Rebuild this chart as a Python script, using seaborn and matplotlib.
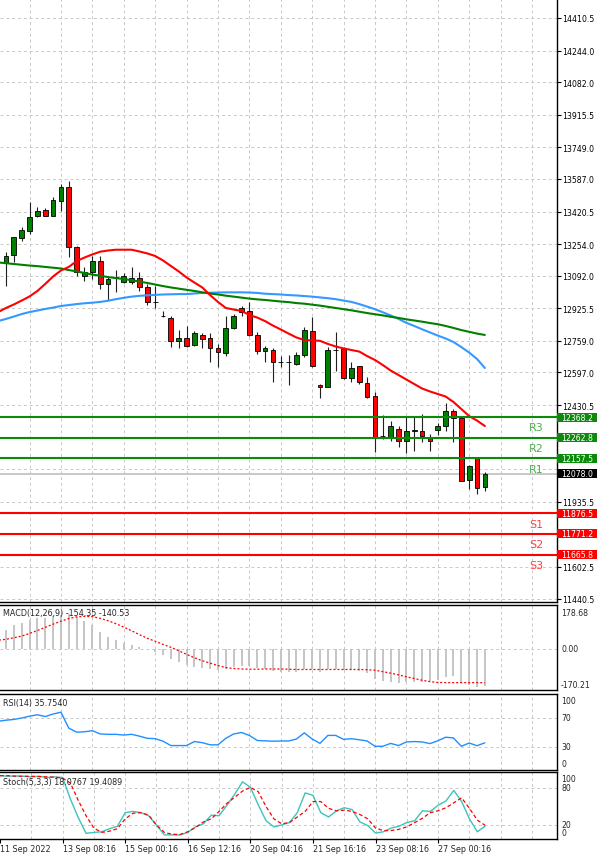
import matplotlib
matplotlib.use("Agg")
import numpy as np
import pandas as pd
import matplotlib.pyplot as plt
import matplotlib.transforms as mtransforms
from matplotlib.patches import Rectangle
import seaborn as sns

# ---------------- data ----------------
bar_idx = list(range(62))
ext_idx = list(range(-1, 62))

opens = [13157, 13198, 13283, 13322, 13396, 13430, 13396, 13473, 13544, 13240,
         13092, 13113, 13166, 13050, 13085, 13061, 13061, 13079, 13033, 12959,
         12886, 12877, 12756, 12772, 12738, 12789, 12772, 12722, 12697, 12823,
         12925, 12913, 12790, 12708, 12714, 12652, 12652, 12640, 12688, 12811,
         12533, 12521, 12714, 12717, 12567, 12629, 12543, 12475, 12273, 12265,
         12308, 12248, 12297, 12296, 12265, 12303, 12325, 12398, 12364, 12048,
         12158, 12010]
highs = [13213, 13290, 13341, 13471, 13445, 13441, 13493, 13561, 13578, 13246,
         13137, 13193, 13193, 13092, 13123, 13106, 13135, 13110, 13050, 13038,
         12913, 12884, 12816, 12833, 12811, 12799, 12799, 12743, 12888, 12896,
         12939, 12959, 12803, 12734, 12721, 12680, 12686, 12703, 12828, 12879,
         12536, 12725, 12803, 12725, 12649, 12632, 12574, 12496, 12379, 12350,
         12325, 12368, 12368, 12385, 12282, 12339, 12439, 12410, 12374, 12124,
         12158, 12086]
lows = [13041, 13162, 13271, 13305, 13391, 13398, 13396, 13425, 13186, 13092,
        13067, 13075, 13024, 12969, 13007, 13055, 13050, 13015, 12944, 12925,
        12879, 12726, 12721, 12726, 12731, 12721, 12652, 12624, 12683, 12819,
        12888, 12785, 12692, 12652, 12550, 12624, 12533, 12635, 12675, 12624,
        12465, 12521, 12606, 12564, 12547, 12538, 12465, 12192, 12257, 12248,
        12214, 12185, 12197, 12240, 12197, 12277, 12299, 12240, 12042, 12001,
        11975, 11992]
closes = [13194, 13289, 13326, 13391, 13422, 13399, 13481, 13544, 13237, 13113,
          13113, 13166, 13050, 13075, 13082, 13091, 13079, 13033, 12956, 12957,
          12884, 12756, 12772, 12734, 12797, 12768, 12721, 12700, 12823, 12888,
          12905, 12790, 12708, 12721, 12649, 12650, 12651, 12688, 12816, 12629,
          12521, 12714, 12712, 12567, 12618, 12547, 12473, 12268, 12270, 12325,
          12245, 12299, 12301, 12270, 12248, 12325, 12398, 12364, 12043, 12120,
          12004, 12078]

ma_red = [12906, 12927, 12945, 12965, 12986, 13014, 13050, 13088, 13119, 13137,
          13167, 13185, 13201, 13215, 13221, 13225, 13225, 13225, 13216, 13206,
          13193, 13170, 13142, 13114, 13083, 13057, 13032, 12993, 12958, 12927,
          12919, 12912, 12891, 12878, 12860, 12837, 12817, 12796, 12776, 12763,
          12761, 12759, 12743, 12730, 12720, 12712, 12704, 12681, 12661, 12635,
          12607, 12584, 12561, 12538, 12515, 12500, 12487, 12474, 12446, 12410,
          12374, 12351, 12323]
ma_green = [13160, 13156, 13152, 13148, 13144, 13141, 13137, 13133, 13129, 13121,
            13114, 13106, 13098, 13092, 13085, 13080, 13075, 13069, 13062, 13055,
            13047, 13039, 13032, 13026, 13020, 13014, 13007, 13001, 12996, 12990,
            12985, 12980, 12975, 12971, 12968, 12964, 12960, 12957, 12952, 12949,
            12944, 12939, 12933, 12927, 12921, 12915, 12908, 12901, 12895, 12889,
            12882, 12876, 12869, 12863, 12857, 12850, 12844, 12835, 12825, 12814,
            12805, 12796, 12789]
ma_blue = [12860, 12871, 12883, 12896, 12906, 12914, 12922, 12929, 12937, 12942,
           12947, 12951, 12954, 12958, 12964, 12972, 12979, 12985, 12989, 12992,
           12994, 12996, 12997, 12998, 12998, 13001, 13004, 13005, 13006, 13007,
           13007, 13007, 13006, 13004, 13000, 12998, 12996, 12993, 12991, 12988,
           12985, 12981, 12977, 12972, 12965, 12958, 12947, 12934, 12921, 12905,
           12889, 12871, 12851, 12835, 12818, 12802, 12786, 12771, 12753, 12727,
           12699, 12666, 12620]

# grid levels of the price scale; only the visible ones get a label
price_grid = [14410.5, 14244.0, 14082.0, 13915.5, 13749.0, 13587.0, 13420.5,
              13254.0, 13092.0, 12925.5, 12759.0, 12597.0, 12430.5, 12264.0,
              12102.0, 11935.5, 11769.0, 11602.5, 11440.5]
price_labels = [14410.5, 14244.0, 14082.0, 13915.5, 13749.0, 13587.0, 13420.5,
                13254.0, 13092.0, 12925.5, 12759.0, 12597.0, 12430.5,
                11935.5, 11602.5, 11440.5]

res_levels = [12368.2, 12262.8, 12157.5]
res_names = ["R3", "R2", "R1"]
sup_levels = [11876.5, 11771.2, 11665.8]
sup_names = ["S1", "S2", "S3"]
last_price = 12078.0

macd_main = [75, 95, 106, 117, 124, 127, 132, 138, 142, 128,
             112, 96, 66, 48, 34, 24, 14, 5, -2, -14,
             -28, -44, -56, -66, -74, -80, -86, -90, -84, -76,
             -70, -72, -80, -86, -92, -96, -98, -96, -84, -86,
             -96, -86, -84, -88, -88, -92, -100, -124, -134, -138,
             -140, -138, -138, -136, -134, -130, -118, -112, -140, -148,
             -158, -154.35]
macd_signal = [34, 38, 44, 51, 62, 74, 87, 100, 112, 123, 130, 132, 131, 124,
               114, 102, 88, 73, 57, 42, 30, 17, 5, -9, -24, -38, -50, -60,
               -70, -78, -82, -84, -85, -85, -84, -84, -84, -85, -86, -86, -86,
               -86, -86, -86, -86, -86, -86, -87, -89, -95, -101, -108, -116,
               -123, -130, -136, -139, -140, -140, -140, -140, -140, -140.53]

rsi = [65.5, 67, 68, 70, 72.5, 74.5, 72, 75.5, 78, 56, 50.5, 51, 52.5, 48, 47.5,
       47.5, 46.5, 47.5, 45, 42, 41.5, 38, 32, 32, 32, 37.5, 36, 33, 33, 42, 48,
       50, 46, 39, 38.5, 38, 38.3, 38.3, 41, 49.5, 41, 35, 46, 46, 40.5, 41.5,
       40, 38.3, 31, 31, 35, 32, 37, 37.5, 37, 34.7, 38.5, 43.5, 42.5, 31, 35.5,
       31.8, 35.754]

sto_main = [100, 99, 99.5, 99, 98, 99, 97, 98, 97, 62, 32, 6.5, 8, 9, 14, 18, 40,
            42, 40, 35, 20, 4, 4, 4, 8, 17, 22, 36, 35, 52, 70, 90, 81, 53, 27,
            17, 20, 24, 40, 72, 68, 40, 33, 43, 48, 45, 25, 19, 7, 9, 15, 18, 24,
            27, 43, 42, 52, 59, 76, 58, 30, 9, 18.08]
sto_signal = [100, 100, 99, 99, 99, 98.5, 98, 97.5, 96, 88, 60, 35, 15, 8, 10, 14,
              30, 39, 40, 36, 20, 8, 5, 4.6, 9, 16, 25, 30, 42, 55, 65, 75, 81, 74,
              50, 30, 22, 24, 33, 42, 58, 58, 47, 43, 44, 42, 37, 30, 15, 11, 11,
              13, 17, 24, 31, 40, 43, 48, 56, 64, 47, 28, 19.41]

date_pos = [-1, 7, 15, 23, 31, 39, 47, 55]
date_labels = ["11 Sep 2022", "13 Sep 08:16", "15 Sep 00:16", "16 Sep 12:16",
               "20 Sep 04:16", "21 Sep 16:16", "23 Sep 08:16", "27 Sep 00:16"]
grid_x = list(range(3, 70, 4))

# ---------------- style ----------------
sns.set_style("white")
plt.rcParams['font.family'] = ['DejaVu Sans']

W, H = 600, 862
fig = plt.figure(figsize=(W / 100, H / 100), dpi=100)
fig.patch.set_facecolor("white")

RIGHT = 557


def rect(top, bottom):
    return [0, (H - bottom) / H, RIGHT / W, (bottom - top) / H]


ax = fig.add_axes(rect(0, 603))
ax_macd = fig.add_axes(rect(606, 691))
ax_rsi = fig.add_axes(rect(695, 771))
ax_sto = fig.add_axes(rect(773, 840))
axes = [ax, ax_macd, ax_rsi, ax_sto]

GRID = "#c8c8c8"
GRID_LS = (0, (3, 3))
XMIN, XMAX = -0.764, 70.19
FS = 5.6

for a in axes:
    a.set_xlim(XMIN, XMAX)
    a.set_facecolor("white")
    a.spines["left"].set_visible(False)
    for s in ["right", "top", "bottom"]:
        a.spines[s].set_color("black")
        a.spines[s].set_linewidth(1.0)
    a.set_xticks([])
    for g in grid_x:
        a.axvline(g, color=GRID, lw=0.7, ls=GRID_LS, zorder=0)
ax.spines["top"].set_visible(False)

# ---------------- main panel ----------------
ax.set_ylim(11422.8, 14507.7)
for t in price_grid:
    ax.axhline(t, color=GRID, lw=0.7, ls=GRID_LS, zorder=0)
ax.yaxis.tick_right()
ax.set_yticks(price_labels)
ax.set_yticklabels([f"{t:.1f}" for t in price_labels], fontsize=FS)
ax.tick_params(axis="y", length=3, width=0.8, pad=1, colors="black")

ax.axhline(last_price, color="#c4c4c4", lw=1.3, zorder=1)

df = pd.DataFrame({"i": bar_idx, "o": opens, "h": highs, "l": lows, "c": closes})
up = df["c"] >= df["o"]
ax.vlines(df["i"], df["l"], df["h"], color="#202020", lw=0.8, zorder=3)
body_bottom = np.minimum(df["o"], df["c"])
body_h = np.maximum(np.abs(df["c"] - df["o"]), 2.0)
ax.bar(df["i"], body_h, bottom=body_bottom, width=0.6,
       color=np.where(up, "#008000", "#ff0000"), edgecolor="black",
       linewidth=0.6, zorder=4)

sns.lineplot(x=ext_idx, y=ma_blue, ax=ax, color="#3399ff", lw=1.5, zorder=5)
sns.lineplot(x=ext_idx, y=ma_green, ax=ax, color="#008000", lw=1.5, zorder=5)
sns.lineplot(x=ext_idx, y=ma_red, ax=ax, color="#ff0000", lw=1.5, zorder=5)

bt = mtransforms.blended_transform_factory(fig.transFigure, ax.transData)


def level_box(lvl, color):
    ax.add_patch(Rectangle((RIGHT / W, lvl - 23), 40 / W, 46, transform=bt,
                           facecolor=color, edgecolor="none",
                           clip_on=False, zorder=8))
    ax.text(561 / W, lvl, f"{lvl:.1f}", transform=bt, color="white",
            fontsize=FS, ha="left", va="center", zorder=9, clip_on=False)


for lvl, name in zip(res_levels, res_names):
    ax.axhline(lvl, color="#0b8a0b", lw=1.5, zorder=6)
    ax.text(67.6, lvl - 52, name, color="#4fae4f", fontsize=8,
            ha="center", va="center", zorder=7)
    level_box(lvl, "#0b8a0b")
for lvl, name in zip(sup_levels, sup_names):
    ax.axhline(lvl, color="#ff0000", lw=1.5, zorder=6)
    ax.text(67.6, lvl - 53, name, color="#ff4040", fontsize=8,
            ha="center", va="center", zorder=7)
    level_box(lvl, "#ff0000")
level_box(last_price, "black")


def ftext(x, y, s, **kw):
    fig.text(x / W, 1 - y / H, s, fontsize=kw.pop("fontsize", FS),
             va=kw.pop("va", "center"), ha=kw.pop("ha", "left"), **kw)


# ---------------- MACD ----------------
ax_macd.set_ylim(-170.21, 178.68)
ax_macd.axhline(0, color=GRID, lw=0.7, ls=GRID_LS, zorder=0)
ax_macd.vlines(bar_idx, 0, macd_main, color="#c0c0c0", lw=1.3, zorder=2)
sns.lineplot(x=ext_idx, y=macd_signal, ax=ax_macd, color="#ff0000", lw=0.9,
             linestyle=(0, (1.6, 1.6)), zorder=3)
ax_macd.set_yticks([])
ftext(3, 614, "MACD(12,26,9) -154.35 -140.53", fontsize=5.8)
ftext(561, 614, "178.68")
ftext(561, 650, "0.00")
ftext(561, 685, "-170.21")

# ---------------- RSI ----------------
ax_rsi.set_ylim(-1.7, 103.1)
for lv in [70, 30]:
    ax_rsi.axhline(lv, color=GRID, lw=0.7, ls=GRID_LS, zorder=0)
sns.lineplot(x=ext_idx, y=rsi, ax=ax_rsi, color="#1e90ff", lw=1.0, zorder=3)
ax_rsi.set_yticks([])
ftext(3, 704, "RSI(14) 35.7540", fontsize=5.8)
ftext(561, 701, "100")
ftext(561, 719, "70")
ftext(561, 748, "30")
ftext(561, 765, "0")

# ---------------- Stochastic ----------------
ax_sto.set_ylim(-2.7, 105.9)
for lv in [80, 20]:
    ax_sto.axhline(lv, color=GRID, lw=0.7, ls=GRID_LS, zorder=0)
sns.lineplot(x=ext_idx, y=sto_main, ax=ax_sto, color="#3cc4bb", lw=1.0, zorder=3)
sns.lineplot(x=ext_idx, y=sto_signal, ax=ax_sto, color="#ff0000", lw=0.9,
             linestyle=(0, (3, 2)), zorder=3)
ax_sto.set_yticks([])
ftext(3, 783, "Stoch(5,3,3) 18.0767 19.4089", fontsize=5.8, zorder=5)
ftext(561, 780, "100")
ftext(561, 789, "80")
ftext(561, 826, "20")
ftext(561, 834, "0")

ax_sto.set_xticks(date_pos)
ax_sto.set_xticklabels([""] * len(date_pos))
ax_sto.tick_params(axis="x", length=3, width=0.8, colors="black", bottom=True)
dt = mtransforms.blended_transform_factory(ax_sto.transData, fig.transFigure)
for p, lab in zip(date_pos, date_labels):
    fig.text(p, 1 - 850 / H, lab, transform=dt, fontsize=5.8,
             ha="left", va="center")

for a in axes:
    a.set_xlabel("")
    a.set_ylabel("")
    leg = a.get_legend()
    if leg:
        leg.remove()

fig.savefig("out.png", dpi=100, facecolor="white")
